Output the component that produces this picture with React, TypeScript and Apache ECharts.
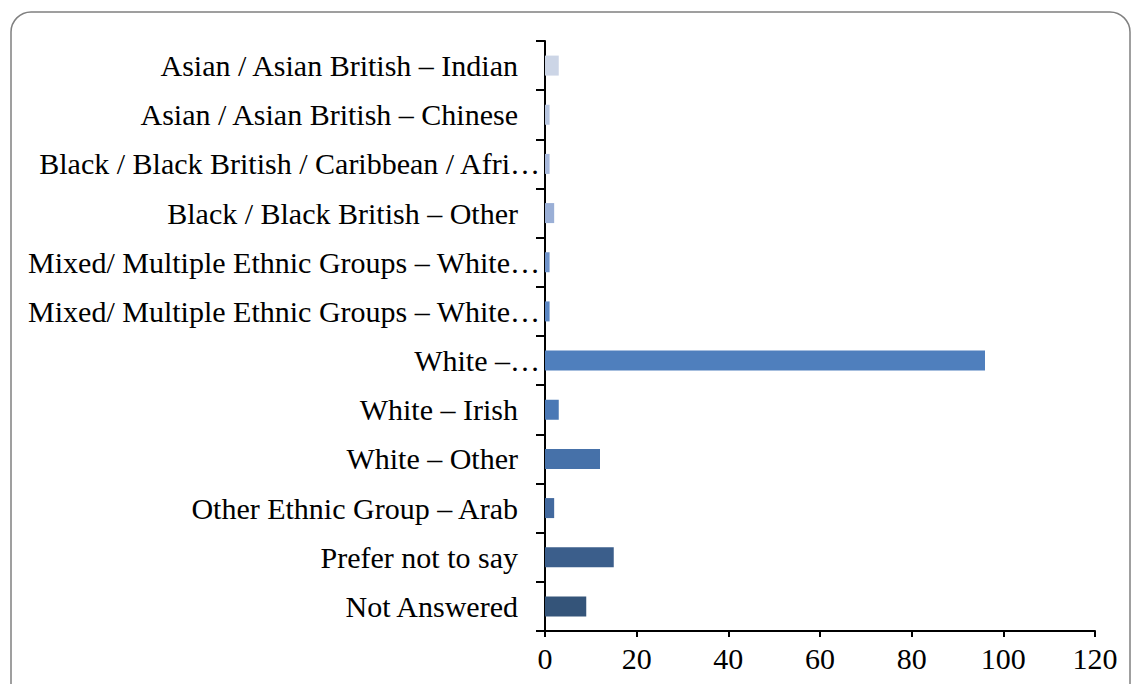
import React, { useEffect, useRef } from "react";
import * as echarts from "echarts";

const categories = [
  "Asian / Asian British – Indian",
  "Asian / Asian British – Chinese",
  "Black / Black British / Caribbean / Afri…",
  "Black / Black British – Other",
  "Mixed/ Multiple Ethnic Groups – White…",
  "Mixed/ Multiple Ethnic Groups – White…",
  "White –…",
  "White – Irish",
  "White – Other",
  "Other Ethnic Group – Arab",
  "Prefer not to say",
  "Not Answered",
];
const truncated = [false, false, true, false, true, true, true, false, false, false, false, false];
const values = [3, 1, 1, 2, 1, 1, 96, 3, 12, 2, 15, 9];
const barColors = [
  "#ccd5e6", "#b8c6e0", "#a8b9dc", "#9aafd6", "#7094cb", "#5b87c4",
  "#4f7fbd", "#4a78b5", "#4671a9", "#42699e", "#3b5e8b", "#345479",
];
const xTicks = [0, 20, 40, 60, 80, 100, 120];

export default function App() {
  const ref = useRef<HTMLDivElement>(null);
  useEffect(() => {
    if (!ref.current) return;
    const chart = echarts.init(ref.current, null, { renderer: "svg" });
    const font = "Liberation Serif";
    chart.setOption({
      animation: false,
      backgroundColor: "#ffffff",
      graphic: [
        {
          type: "rect",
          z: -10,
          shape: { x: 11, y: 12, width: 1119, height: 720, r: 20 },
          style: { fill: "none", stroke: "#808080", lineWidth: 1.5 },
        },
      ],
      grid: { left: 545, right: 39, top: 41, bottom: 53, containLabel: false },
      xAxis: {
        type: "value",
        min: xTicks[0],
        max: xTicks[xTicks.length - 1],
        interval: 20,
        splitLine: { show: false },
        axisLine: { show: true, lineStyle: { color: "#000", width: 2 } },
        axisTick: { show: true, length: 6, lineStyle: { color: "#000", width: 2 } },
        axisLabel: { fontFamily: font, fontSize: 30, color: "#000", margin: 12 },
      },
      yAxis: {
        type: "category",
        inverse: true,
        data: categories,
        axisLine: { show: true, lineStyle: { color: "#000", width: 2 } },
        axisTick: { show: true, length: 9, alignWithLabel: false, lineStyle: { color: "#000", width: 2 } },
        axisLabel: {
          fontFamily: font,
          fontSize: 30,
          color: "#000",
          margin: 5,
          formatter: (v: string, i: number) => (truncated[i] ? `{t|${v}}` : `{n|${v}}`),
          rich: {
            n: { fontFamily: font, fontSize: 30, color: "#000", padding: [0, 22, 0, 0] },
            t: { fontFamily: font, fontSize: 30, color: "#000" },
          },
        },
      },
      series: [
        {
          type: "bar",
          barWidth: 20,
          data: values.map((v, i) => ({ value: v, itemStyle: { color: barColors[i] } })),
        },
      ],
    });
    return () => chart.dispose();
  }, []);
  return (
    <div
      ref={ref}
      style={{ position: "fixed", left: 0, top: 0, width: 1134, height: 684 }}
    />
  );
}
